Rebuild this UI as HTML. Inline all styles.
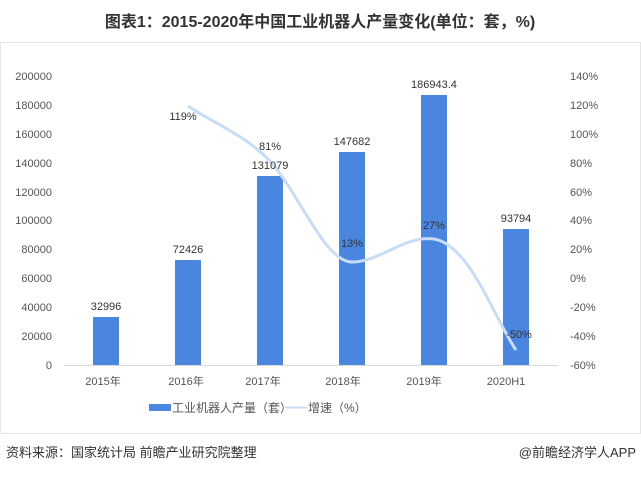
<!DOCTYPE html>
<html><head><meta charset="utf-8"><style>
body{margin:0;background:#fff;width:641px;height:473px;overflow:hidden;font-family:"Liberation Sans","Noto Sans CJK SC",sans-serif}
</style></head><body>
<svg width="641" height="473" xmlns="http://www.w3.org/2000/svg" font-family="Liberation Sans, Noto Sans CJK SC, sans-serif">
<text x="320" y="27" text-anchor="middle" font-size="16" font-weight="bold" fill="#333">图表1：2015-2020年中国工业机器人产量变化(单位：套，%)</text>
<rect x="0.5" y="42.5" width="640" height="391" fill="none" stroke="#e6e6e6"/>
<g font-size="11" fill="#555" text-anchor="end">
<text x="52" y="80">200000</text><text x="52" y="109">180000</text><text x="52" y="138">160000</text><text x="52" y="167">140000</text><text x="52" y="196">120000</text><text x="52" y="224">100000</text><text x="52" y="253">80000</text><text x="52" y="282">60000</text><text x="52" y="311">40000</text><text x="52" y="340">20000</text><text x="52" y="369">0</text>
</g>
<g font-size="11" fill="#555" text-anchor="start">
<text x="570" y="80">140%</text><text x="570" y="109">120%</text><text x="570" y="138">100%</text><text x="570" y="167">80%</text><text x="570" y="196">60%</text><text x="570" y="224">40%</text><text x="570" y="253">20%</text><text x="570" y="282">0%</text><text x="570" y="311">-20%</text><text x="570" y="340">-40%</text><text x="570" y="369">-60%</text>
</g>
<line x1="64" y1="365.5" x2="558" y2="365.5" stroke="#d9d9d9"/>
<g fill="#4a86e0">
<rect x="93" y="317" width="26" height="48"/>
<rect x="175" y="260" width="26" height="105"/>
<rect x="257" y="176" width="26" height="189"/>
<rect x="339" y="152" width="26" height="213"/>
<rect x="421" y="95" width="26" height="270"/>
<rect x="503" y="229" width="26" height="136"/>
</g>
<path d="M188,106 C215,124 245,135 270,161 C300,195 325,262 352,262 C380,262 405,235 434,239 C470,245 495,320 516,350" fill="none" stroke="#c9dcf5" stroke-width="3"/>
<g font-size="11" fill="#333" text-anchor="middle">
<text x="106" y="310">32996</text><text x="188" y="253">72426</text><text x="270" y="169">131079</text><text x="352" y="145">147682</text><text x="434" y="88">186943.4</text><text x="516" y="222">93794</text>
<text x="183" y="120">119%</text><text x="270" y="150">81%</text><text x="352" y="247">13%</text><text x="434" y="229">27%</text><text x="519" y="338">-50%</text>
</g>
<g font-size="11" fill="#555" text-anchor="middle">
<text x="103" y="385">2015年</text><text x="186" y="385">2016年</text><text x="263" y="385">2017年</text><text x="343" y="385">2018年</text><text x="424" y="385">2019年</text><text x="506" y="385">2020H1</text>
</g>
<rect x="149" y="404" width="22" height="7" fill="#4a86e0"/>
<text x="172" y="412" font-size="12" fill="#555">工业机器人产量（套）</text>
<line x1="285" y1="407.5" x2="307" y2="407.5" stroke="#c9dcf5" stroke-width="2"/>
<text x="308" y="412" font-size="12" fill="#555">增速（%）</text>
<text x="6" y="457" font-size="13" fill="#333">资料来源：国家统计局 前瞻产业研究院整理</text>
<text x="636" y="457" font-size="13" fill="#333" text-anchor="end">@前瞻经济学人APP</text>
</svg>
</body></html>
